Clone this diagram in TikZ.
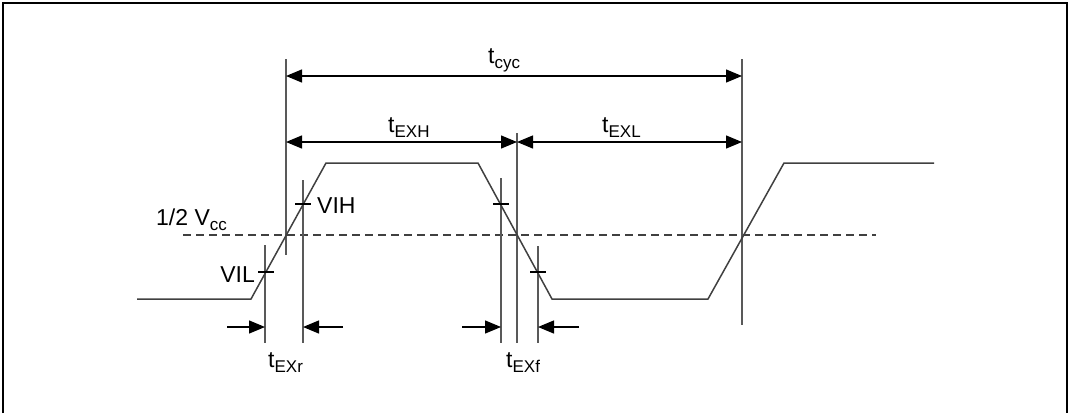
\documentclass[tikz,border=0pt]{standalone}
\usepackage{fontspec}
\setmainfont{Liberation Sans}
\usetikzlibrary{arrows.meta}

\newcommand{\lowsub}[1]{\raisebox{-0.45ex}{\fontsize{17}{17}\selectfont #1}}

\begin{document}
\begin{tikzpicture}[x=1pt,y=-1pt,
    lbl/.style={font=\fontsize{23}{26}\selectfont, inner sep=0pt},
    sig/.style={draw=black!75, line width=1.5pt},
    guide/.style={draw=black!65, line width=1.2pt},
    tickmark/.style={draw=black, line width=1.2pt},
    half/.style={draw=black!75, line width=1.6pt, dash pattern=on 8pt off 5pt},
    dimone/.style={draw=black, line width=1.3pt, -{Triangle[length=16pt,width=13pt]}},
    dimtwo/.style={draw=black, line width=1.3pt, {Triangle[length=16pt,width=13pt]}-{Triangle[length=16pt,width=13pt]}}]
  \useasboundingbox (0,0) rectangle (1071,413);

  % frame (open at the bottom)
  \draw[line width=2pt] (3,413) -- (3,3) -- (1067,3) -- (1067,413);

  % signal corners
  \coordinate (s0) at (137,299);
  \coordinate (s1) at (251,299);
  \coordinate (s2) at (326,163);
  \coordinate (s3) at (478,163);
  \coordinate (s4) at (552,299);
  \coordinate (s5) at (708,299);
  \coordinate (s6) at (784,163);
  \coordinate (s7) at (934,163);

  % 1/2 Vcc level
  \coordinate (h0) at (183,235);
  \coordinate (h1) at (876,235);
  \draw[half] (h0) -- (h1);

  % guide lines
  \coordinate (ga) at (286,59);  \coordinate (gb) at (286,255);
  \coordinate (gc) at (742,59);  \coordinate (gd) at (742,325);
  \coordinate (ge) at (517,133); \coordinate (gf) at (517,343);
  \coordinate (ril) at (265,245); \coordinate (rilb) at (265,343);
  \coordinate (rih) at (303,180); \coordinate (rihb) at (303,343);
  \coordinate (fih) at (501,178); \coordinate (fihb) at (501,343);
  \coordinate (fil) at (538,246); \coordinate (filb) at (538,343);
  \draw[guide] (ga) -- (gb);
  \draw[guide] (gc) -- (gd);
  \draw[guide] (ge) -- (gf);
  \draw[guide] (ril) -- (rilb);
  \draw[guide] (rih) -- (rihb);
  \draw[guide] (fih) -- (fihb);
  \draw[guide] (fil) -- (filb);

  % signal
  \draw[sig] (s0) -- (s1) -- (s2) -- (s3) -- (s4) -- (s5) -- (s6) -- (s7);

  % VIH / VIL ticks
  \foreach \x/\y in {266/272, 303/204, 501/204, 538/272}
    \draw[tickmark] (\x-8,\y) -- (\x+8,\y);

  % timing arrows
  \coordinate (cyca) at (286,76);  \coordinate (cycb) at (742,76);
  \coordinate (exa) at (286,142);  \coordinate (exm) at (517,142);
  \coordinate (exb) at (742,142);
  \draw[dimtwo] (cyca) -- (cycb);
  \draw[dimtwo] (exa) -- (exm);
  \draw[dimtwo] (exm) -- (exb);

  \coordinate (ra0) at (227,327); \coordinate (ra1) at (265,327);
  \coordinate (rb0) at (343,327); \coordinate (rb1) at (303,327);
  \coordinate (fa0) at (462,327); \coordinate (fa1) at (501,327);
  \coordinate (fb0) at (579,327); \coordinate (fb1) at (538,327);
  \draw[dimone] (ra0) -- (ra1);
  \draw[dimone] (rb0) -- (rb1);
  \draw[dimone] (fa0) -- (fa1);
  \draw[dimone] (fb0) -- (fb1);

  % labels
  \node[lbl, anchor=base west] (tcyc) at (488,63) {t\lowsub{cyc}};
  \node[lbl, anchor=base west] (texh) at (388,132) {t\lowsub{EXH}};
  \node[lbl, anchor=base west] (texl) at (602,132) {t\lowsub{EXL}};
  \node[lbl, anchor=base west] (texr) at (268,367) {t\lowsub{EXr}};
  \node[lbl, anchor=base west] (texf) at (506,367) {t\lowsub{EXf}};
  \node[lbl, anchor=base west] (vcc) at (156,225) {1/2 V\lowsub{cc}};
  \node[lbl, anchor=base west] (vih) at (317,213) {VIH};
  \node[lbl, anchor=base east] (vil) at (255,282) {VIL};
\end{tikzpicture}
\end{document}
